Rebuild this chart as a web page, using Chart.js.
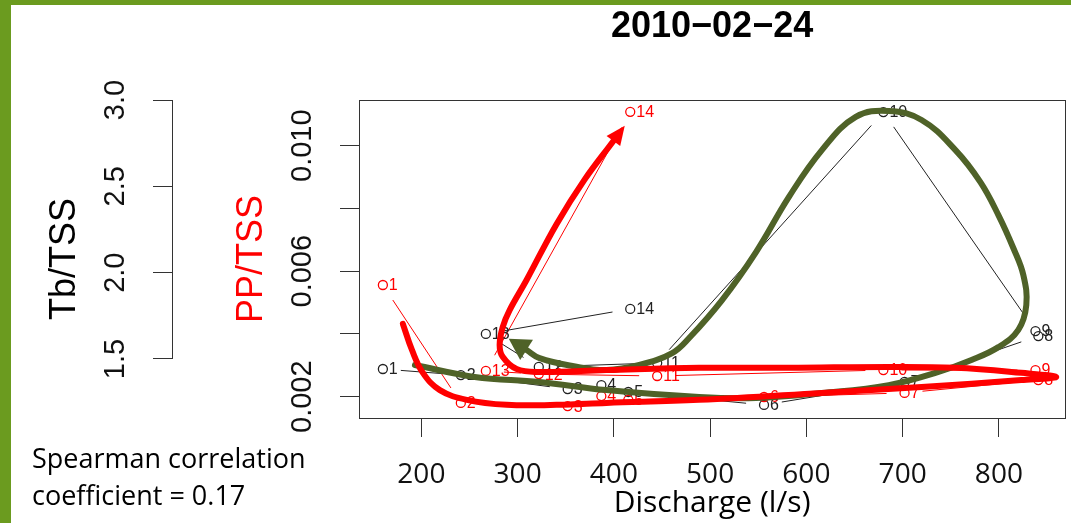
<!DOCTYPE html>
<html>
<head>
<meta charset="utf-8">
<title>2010-02-24 hysteresis</title>
<script src="https://cdn.jsdelivr.net/npm/chart.js@4/dist/chart.umd.min.js"></script>
<style>
  html, body { margin: 0; padding: 0; background: #fff; }
  #wrap { position: relative; width: 1071px; height: 523px; overflow: hidden; }
  #wrap canvas { position: absolute; left: 0; top: 0; }
  .bar { position: absolute; background: #6b9b1f; }
</style>
</head>
<body>
<div id="wrap">
  <canvas id="hyst" width="1071" height="523"></canvas>
  <div class="bar" style="left:0;top:0;width:11px;height:523px"></div>
  <div class="bar" style="left:0;top:0;width:1071px;height:5px"></div>
</div>
<script>
// sample numbers and discharge (l/s) of each sample
const sampleIds = [1, 2, 3, 4, 5, 6, 7, 8, 9, 10, 11, 12, 13, 14];
const discharge = [160, 241, 352, 387, 415, 556, 702, 841, 838, 680, 445, 322, 267, 417];
// ratios per sample
const tbTss = [1.442, 1.407, 1.326, 1.349, 1.309, 1.234, 1.367, 1.633, 1.662, 2.930, 1.477, 1.454, 1.645, 1.790];
const ppTss = [0.00556, 0.00180, 0.00170, 0.00202, 0.00190, 0.00199, 0.00212, 0.00253, 0.00285, 0.00285, 0.00266, 0.00272, 0.00282, 0.01108];

// hand drawn hysteresis loops (discharge, PP/TSS units)
const redLoopQ  = [180.8, 190.2, 201.6, 219.2, 247.2, 288.6, 340.4, 392.2, 488.6, 616.1, 719.7, 823.3, 859.6, 823.3, 754.9,
                   685.5, 581.9, 488.6, 392.2, 322.8, 299.0, 284.5, 281.3, 284.5, 291.7, 309.3, 340.4, 369.4, 399.5];
const redLoopPP = [0.00432, 0.00349, 0.00276, 0.00221, 0.00190, 0.00174, 0.00174, 0.00180, 0.00190, 0.00212, 0.00231, 0.00253, 0.00263, 0.00276, 0.00292,
                   0.00295, 0.00292, 0.00292, 0.00285, 0.00279, 0.00288, 0.00327, 0.00365, 0.00422, 0.00476, 0.00572, 0.00750, 0.00891, 0.01015];
const greenLoopQ  = [193.3, 255.4, 322.8, 392.2, 488.6, 547.7, 616.1, 685.5, 737.3, 771.5, 799.5, 820.2, 828.5, 825.4, 815.0, 799.5, 780.8,
                     754.9, 719.7, 685.5, 651.3, 616.1, 581.9, 547.7, 512.4, 478.2, 460.6, 426.4, 392.2, 357.0, 322.8, 309.3];
const greenLoopPP = [0.00301, 0.00263, 0.00247, 0.00221, 0.00199, 0.00196, 0.00212, 0.00237, 0.00279, 0.00317, 0.00358, 0.00413, 0.00492, 0.00588, 0.00674, 0.00779, 0.00884,
                     0.00986, 0.01082, 0.01111, 0.01092, 0.00986, 0.00837, 0.00661, 0.00508, 0.00387, 0.00339, 0.00301, 0.00285, 0.00298, 0.00323, 0.00349];

// axis ticks
const qTicks = [200, 300, 400, 500, 600, 700, 800];
const ppTicks = [0.002, 0.004, 0.006, 0.008, 0.010];
const ppTickLabels = ['0.002', '', '0.006', '', '0.010'];
const tbTicks = [1.5, 2.0, 2.5, 3.0];
const tbTickLabels = ['1.5', '2.0', '2.5', '3.0'];

const AXIS = '#333';
const RED = '#ff0000';
const OLIVE = '#4f6228';
const ARIAL = "'Liberation Sans', Arial, sans-serif";
const SANS = "'Open Sans', Lato, sans-serif";
const GAP = 18;

const xy = (xs, ys) => xs.map((x, i) => ({ x: x, y: ys[i] }));
const setTicks = vals => scale => { scale.ticks = vals.map(v => ({ value: v })); };

// R style type="b" segments: lines between points, cut short round each point
function gapLines(ctx, pts, color) {
    ctx.strokeStyle = color;
    ctx.lineWidth = 1;
    for (let i = 1; i < pts.length; i++) {
        const a = pts[i - 1], b = pts[i];
        const dx = b.x - a.x, dy = b.y - a.y, d = Math.hypot(dx, dy);
        if (d <= 2 * GAP) continue;
        const ux = dx / d, uy = dy / d;
        ctx.beginPath();
        ctx.moveTo(a.x + ux * GAP, a.y + uy * GAP);
        ctx.lineTo(b.x - ux * GAP, b.y - uy * GAP);
        ctx.stroke();
    }
}

const hystPlugin = {
    id: 'hyst',
    beforeDatasetsDraw(chart) {
        const { ctx, chartArea: a, scales } = chart;
        ctx.save();
        // plot frame
        ctx.strokeStyle = AXIS;
        ctx.lineWidth = 1;
        ctx.strokeRect(Math.round(a.left) + 0.5, Math.round(a.top) + 0.5,
                       Math.round(a.right - a.left), Math.round(a.bottom - a.top));
        // Tb/TSS axis line only over its tick range
        const s = scales.y2;
        const ax = Math.round(s.right - 0.5) + 0.5;
        ctx.beginPath();
        ctx.moveTo(ax, s.getPixelForValue(tbTicks[0]));
        ctx.lineTo(ax, s.getPixelForValue(tbTicks[tbTicks.length - 1]));
        ctx.stroke();

        // connecting segments and sample numbers
        [[2, RED], [3, '#222']].forEach(([idx, color]) => {
            const pts = chart.getDatasetMeta(idx).data;
            gapLines(ctx, pts, color);
            ctx.fillStyle = color;
            ctx.font = '16px ' + ARIAL;
            ctx.textAlign = 'left';
            ctx.textBaseline = 'middle';
            pts.forEach((p, i) => ctx.fillText(String(sampleIds[i]), p.x + 6, p.y + 1));
        });
        ctx.restore();
    },
    afterDatasetsDraw(chart) {
        const { ctx } = chart;
        // arrow heads at the end of both loops
        [[0, RED, 19, 17], [1, OLIVE, 21, 24]].forEach(([idx, color, len, wid]) => {
            const pts = chart.getDatasetMeta(idx).data;
            const end = pts[pts.length - 1], prev = pts[pts.length - 2];
            const dx = end.x - prev.x, dy = end.y - prev.y, d = Math.hypot(dx, dy);
            const ux = dx / d, uy = dy / d;
            ctx.save();
            ctx.fillStyle = color;
            ctx.beginPath();
            ctx.moveTo(end.x + ux * len, end.y + uy * len);
            ctx.lineTo(end.x - uy * wid / 2, end.y + ux * wid / 2);
            ctx.lineTo(end.x + uy * wid / 2, end.y - ux * wid / 2);
            ctx.closePath();
            ctx.fill();
            ctx.restore();
        });
    },
    afterDraw(chart) {
        const { ctx, chartArea: a } = chart;
        ctx.save();
        ctx.fillStyle = '#000';
        ctx.font = 'bold 36px ' + ARIAL;
        ctx.textAlign = 'center';
        ctx.textBaseline = 'alphabetic';
        ctx.fillText('2010\u221202\u221224', (a.left + a.right) / 2, 37);

        ctx.font = '27px ' + SANS;
        ctx.textAlign = 'left';
        ctx.fillText('Spearman correlation', 32, 468);
        ctx.fillText('coefficient = 0.17', 32, 505);
        ctx.restore();
    }
};

new Chart(document.getElementById('hyst'), {
    type: 'scatter',
    data: {
        datasets: [
            {
                type: 'line',
                data: xy(redLoopQ, redLoopPP),
                yAxisID: 'y',
                borderColor: RED,
                borderWidth: 6,
                borderCapStyle: 'round',
                borderJoinStyle: 'round',
                pointRadius: 0,
                tension: 0.4,
                fill: false
            },
            {
                type: 'line',
                data: xy(greenLoopQ, greenLoopPP),
                yAxisID: 'y',
                borderColor: OLIVE,
                borderWidth: 6,
                borderCapStyle: 'round',
                borderJoinStyle: 'round',
                pointRadius: 0,
                tension: 0.4,
                fill: false
            },
            {
                label: 'PP/TSS',
                data: xy(discharge, ppTss),
                yAxisID: 'y',
                showLine: false,
                pointRadius: 4.5,
                pointBorderWidth: 1.3,
                pointBorderColor: RED,
                pointBackgroundColor: 'rgba(0,0,0,0)'
            },
            {
                label: 'Tb/TSS',
                data: xy(discharge, tbTss),
                yAxisID: 'y2',
                showLine: false,
                pointRadius: 4.5,
                pointBorderWidth: 1.3,
                pointBorderColor: '#222',
                pointBackgroundColor: 'rgba(0,0,0,0)'
            }
        ]
    },
    options: {
        responsive: false,
        animation: false,
        devicePixelRatio: 1,
        layout: { padding: { top: 100, right: 4, bottom: 0, left: 0 } },
        plugins: {
            legend: { display: false },
            tooltip: { enabled: false }
        },
        scales: {
            x: {
                type: 'linear',
                min: 135.2,
                max: 868.9,
                afterBuildTicks: setTicks(qTicks),
                afterFit: s => { s.height = 105; },
                border: { display: false },
                grid: { drawOnChartArea: false, drawTicks: true, tickLength: 19, color: AXIS, tickColor: AXIS },
                ticks: {
                    autoSkip: false,
                    maxRotation: 0,
                    padding: 21,
                    color: '#111',
                    font: { family: SANS, size: 28 },
                    callback: v => String(v)
                },
                title: {
                    display: true,
                    text: 'Discharge (l/s)',
                    color: '#000',
                    font: { family: SANS, size: 30 },
                    padding: { top: 0, bottom: 2 }
                }
            },
            y: {
                type: 'linear',
                position: 'left',
                weight: 1,
                min: 0.001321,
                max: 0.011457,
                afterBuildTicks: setTicks(ppTicks),
                afterFit: s => { s.width = 187; },
                border: { display: false },
                grid: { drawOnChartArea: false, drawTicks: true, tickLength: 19, color: AXIS, tickColor: AXIS },
                ticks: {
                    autoSkip: false,
                    minRotation: 90,
                    maxRotation: 90,
                    crossAlign: 'center',
                    padding: 1,
                    color: '#111',
                    font: { family: ARIAL, size: 29 },
                    callback: (v, i) => ppTickLabels[i]
                },
                title: {
                    display: true,
                    text: 'PP/TSS',
                    color: RED,
                    font: { family: ARIAL, size: 36 },
                    padding: { top: 58, bottom: 0 }
                }
            },
            y2: {
                type: 'linear',
                position: 'left',
                weight: 2,
                min: 1.1583,
                max: 3.0,
                afterBuildTicks: setTicks(tbTicks),
                afterFit: s => { s.width = 172; },
                border: { display: false },
                grid: { drawOnChartArea: false, drawTicks: true, tickLength: 19, color: AXIS, tickColor: AXIS },
                ticks: {
                    autoSkip: false,
                    minRotation: 90,
                    maxRotation: 90,
                    crossAlign: 'center',
                    padding: 17,
                    color: '#111',
                    font: { family: ARIAL, size: 29 },
                    callback: (v, i) => tbTickLabels[i]
                },
                title: {
                    display: true,
                    text: 'Tb/TSS',
                    color: '#000',
                    font: { family: ARIAL, size: 36 },
                    padding: { top: 43, bottom: 0 }
                }
            }
        }
    },
    plugins: [hystPlugin]
});
</script>
</body>
</html>
